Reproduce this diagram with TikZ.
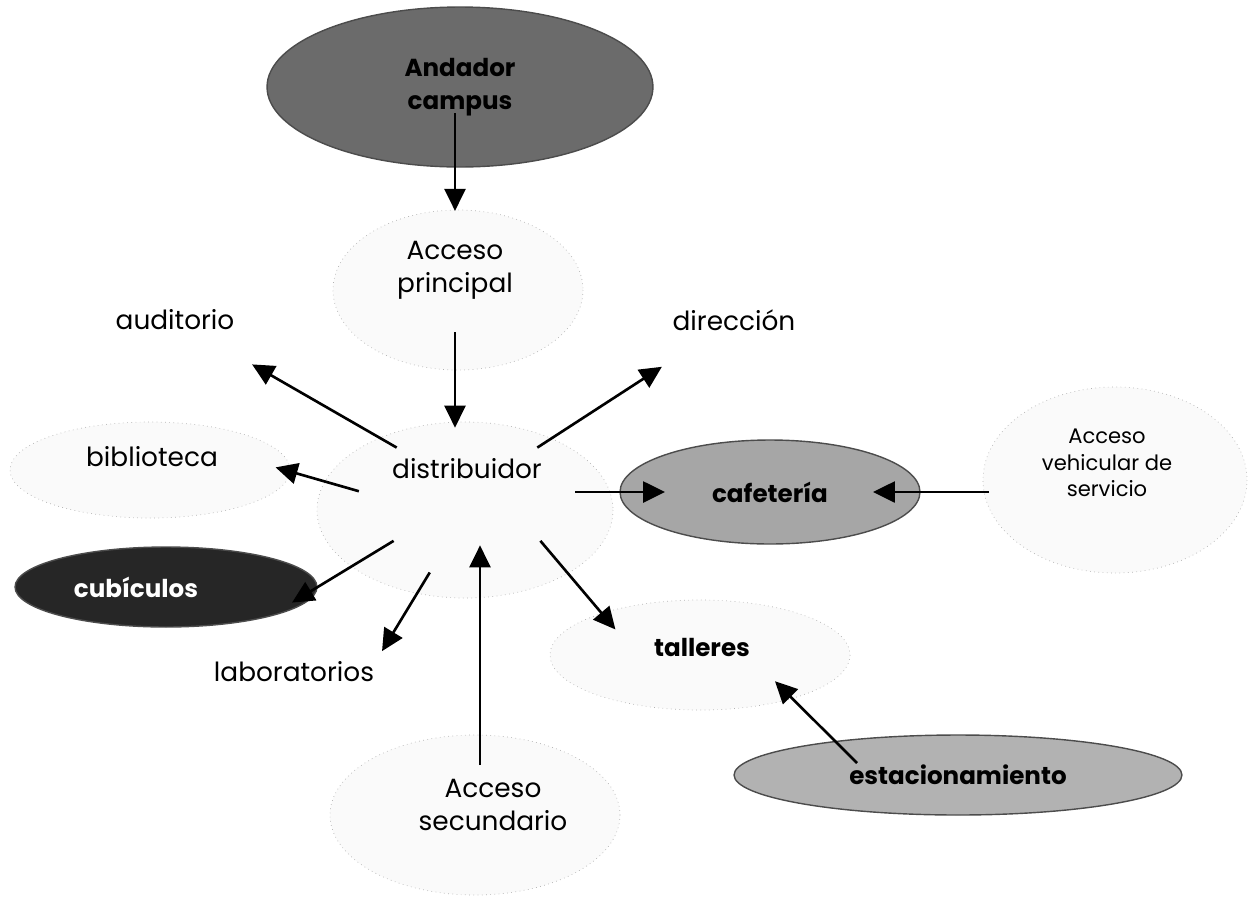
\documentclass[tikz,border=0pt]{standalone}
\usepackage{fontspec}
\setmainfont{Poppins}
\usetikzlibrary{arrows.meta,shapes.geometric}

\tikzset{
  arr/.style={-{Triangle[length=0.44cm,width=0.42cm]}, line width=1.5pt},
  lbl/.style={inner sep=2pt, align=center, font=\fontsize{15}{19}\selectfont},
  zone/.style={draw=black!30, dotted, fill=black!2},
  blob/.style={ellipse, draw=black!70, line width=0.8pt, inner sep=0pt, align=center,
    font=\fontsize{14}{19}\selectfont\bfseries},
  hub/.style={ellipse, minimum width=4.32cm, minimum height=2.48cm, inner sep=0pt,
    font=\fontsize{15}{19}\selectfont}
}

\begin{document}
\begin{tikzpicture}[x=0.02cm, y=-0.02cm]
\useasboundingbox (0,0) rectangle (1254,900);
% faint zones
\draw[zone] (458,290) ellipse [x radius=125, y radius=80];
\draw[zone] (150,470) ellipse [x radius=140, y radius=48];
\draw[zone] (465,510) ellipse [x radius=148, y radius=88];
\draw[zone] (700,655) ellipse [x radius=150, y radius=55];
\draw[zone] (1115,480) ellipse [x radius=132, y radius=93];
\draw[zone] (475,815) ellipse [x radius=145, y radius=80];
% spaces
\node[blob, fill=black!58, minimum width=7.72cm, minimum height=3.2cm] (andador) at (460,87) {Andador\\campus};
\node[lbl] (acp) at (455,270) {Acceso\\principal};
\node[lbl] (aud) at (175,320) {auditorio};
\node[lbl] (dir) at (734,320) {dirección};
\node[lbl] (bib) at (152,457) {biblioteca};
\node[hub] (dist) at (467,495) {\raisebox{0.34cm}[0pt][0pt]{distribuidor}};
\node[blob, fill=black!35, minimum width=6cm, minimum height=2.08cm] (caf) at (770,492) {cafetería};
\node[lbl, font=\fontsize{12}{15}\selectfont] (veh) at (1107,463) {Acceso\\vehicular de\\servicio};
\node[blob, fill=black!85, text=white, minimum width=6.04cm, minimum height=1.6cm] (cub) at (166,587) {cubículos\hspace*{1.2cm}};
\node[lbl] (lab) at (294,672) {laboratorios};
\node[lbl, font=\fontsize{14}{17}\selectfont\bfseries] (tal) at (702,647) {talleres};
\node[blob, fill=black!30, minimum width=8.96cm, minimum height=1.6cm] (est) at (958,775) {estacionamiento};
\node[lbl] (sec) at (493,805) {Acceso\\secundario};
% accesses
\draw[arr, shorten <=0.52cm, shorten >=0.52cm] (andador.center -| acp) -- (acp.north);
\draw[arr, shorten <=0.58cm, shorten >=0.1cm] (acp.south) -- (acp.south |- dist.north);
\draw[arr, shorten <=0.2cm, shorten >=-0.24cm] ([xshift=-0.26cm]sec.north) -- ([xshift=-0.26cm]sec.north |- dist.south);
\draw[arr, shorten <=0.98cm, shorten >=2.06cm] (veh.west |- caf) -- (caf.center);
\draw[arr, shorten >=0.6cm] ([shift={(-101,-12)}]est.center) -- (tal.south east);
% from the distribuidor
\draw[arr, shorten >=1.78cm] (dist.146) -- (aud.center);
\draw[arr, shorten >=1.72cm] (dist.34) -- (dir.center);
\draw[arr, shorten >=1.77cm] (dist.178) -- (bib.20);
\draw[arr, shorten >=2.1cm] (dist.east |- caf) -- (caf.center);
\draw[arr, shorten >=-0.6cm] (dist.212) -- (cub.east);
\draw[arr, shorten <=0.4cm, shorten >=0.16cm] (dist.246) -- (lab.north east);
\draw[arr, shorten >=0.46cm] (dist.-32) -- ([xshift=-0.4cm]tal.west);
\end{tikzpicture}
\end{document}
